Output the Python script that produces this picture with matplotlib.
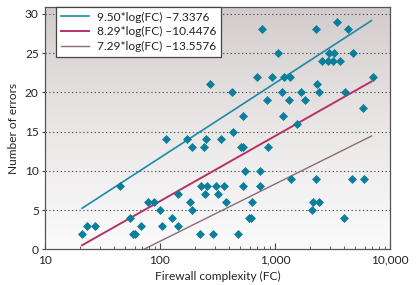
import matplotlib
matplotlib.use('Agg')
import matplotlib.pyplot as plt
import numpy as np
from matplotlib.ticker import FixedLocator, FuncFormatter, LogLocator, NullFormatter

# %%
# data: firewall complexity vs number of errors
fc = [21, 23, 27, 45, 55, 58, 61, 68, 78, 88, 99, 104, 113, 127, 144, 144,
      171, 182, 191, 191, 223, 228, 242, 246, 251, 255, 272, 291, 307, 321,
      339, 362, 375, 420, 433, 480, 505, 525, 530, 530, 548, 590, 615, 635,
      693, 741, 741, 766, 848, 875, 948, 1055, 1143, 1181, 1205, 1324, 1349,
      1377, 1545, 1682, 1832, 2084, 2130, 2262, 2275, 2307, 2400, 2427, 2546,
      2872, 2966, 3214, 3258, 3443, 3673, 4010, 4064, 4347, 4700, 4733, 5860,
      5940, 7080]
errors = [2, 3, 3, 8, 4, 2, 2, 3, 6, 6, 5, 3, 14, 4, 7, 3,
          14, 6, 13, 5, 2, 8, 13, 7, 14, 8, 21, 2, 8, 7,
          14, 8, 6, 20, 15, 2, 13, 13, 17, 8, 10, 4, 4, 6,
          22, 10, 8, 28, 19, 13, 22, 25, 20, 17, 22, 19, 22,
          9, 16, 20, 19, 5, 6, 28, 9, 21, 6, 20, 24,
          24, 25, 24, 25, 29, 24, 4, 20, 28, 9, 25, 18,
          9, 22]

# fitted lines: slope, intercept
fit_slopes = [9.50, 8.29, 7.29]
fit_intercepts = [-7.3376, -10.4476, -13.5576]
fit_labels = ['9.50*log(FC) \u20137.3376',
              '8.29*log(FC) \u201310.4476',
              '7.29*log(FC) \u201313.5576']
fit_range = [21, 6900]

xticks = [10, 100, 1000, 10000]
yticks = [0, 5, 10, 15, 20, 25, 30]

# %%
plt.rcParams['font.family'] = ['Lato', 'DejaVu Sans']
plt.rcParams['font.size'] = 8.6

fig = plt.figure(figsize=(4.18, 2.85), dpi=100)
fig.patch.set_facecolor('white')
ax = fig.add_axes([0.1077, 0.1253, 0.8254, 0.8512])

# gradient background (grey at top, near white at bottom)
grad = np.linspace(0, 1, 256) ** 0.8
top = np.array([0.82, 0.79, 0.79])
bot = np.array([0.985, 0.985, 0.985])
img = top[None, None, :] * (1 - grad[:, None, None]) + bot[None, None, :] * grad[:, None, None]
ax.imshow(img, extent=[0, 1, 0, 1], transform=ax.transAxes, aspect='auto',
          zorder=0, origin='upper')

ax.set_xscale('log')
ax.set_xlim(10, 10000)
ax.set_ylim(0, 30.9)

for y in yticks[1:]:
    ax.axhline(y, color='#555555', linestyle=(0, (1.2, 2.2)), linewidth=0.8, zorder=1)

line_colors = ['#1c8aa8', '#b83268', '#8e6b72']
line_widths = [1.2, 1.4, 1.0]
xx = np.logspace(np.log10(fit_range[0]), np.log10(fit_range[1]), 100)
for m, b, lab, c, lw in zip(fit_slopes, fit_intercepts, fit_labels, line_colors, line_widths):
    ax.plot(xx, m * np.log10(xx) + b, color=c, linewidth=lw, label=lab, zorder=2)

ax.scatter(fc, errors, marker='D', s=21, color='#0b7f99', linewidths=0, zorder=3)

# ticks
ax.xaxis.set_major_locator(FixedLocator(xticks))
ax.xaxis.set_major_formatter(FuncFormatter(lambda v, p: '{:,}'.format(int(v))))
ax.xaxis.set_minor_locator(LogLocator(base=10, subs=np.arange(2, 10)))
ax.xaxis.set_minor_formatter(NullFormatter())
ax.tick_params(axis='x', which='major', direction='in', length=4, width=0.8, colors='#444444', pad=4)
ax.tick_params(axis='x', which='minor', direction='in', length=2.2, width=0.6, colors='#444444')
ax.set_yticks(yticks)
ax.tick_params(axis='y', direction='out', length=2.5, width=0.8, colors='#444444', pad=2)
ax.tick_params(labelcolor='#222222')

for s in ax.spines.values():
    s.set_color('#555555')
    s.set_linewidth(0.9)

ax.set_xlabel('Firewall complexity (FC)', color='#222222', labelpad=4)
ax.set_ylabel('Number of errors', color='#222222', labelpad=4)

leg = ax.legend(loc='upper left', bbox_to_anchor=(0.033, 1.0), borderaxespad=0,
                frameon=True, fancybox=False, handlelength=2.3, handletextpad=0.7,
                labelspacing=0.3, borderpad=0.4)
leg.get_frame().set_edgecolor('#444444')
leg.get_frame().set_linewidth(0.9)
leg.get_frame().set_facecolor('white')
leg.get_frame().set_alpha(1)
for t in leg.get_texts():
    t.set_color('#222222')

plt.savefig('out.png', dpi=100)
